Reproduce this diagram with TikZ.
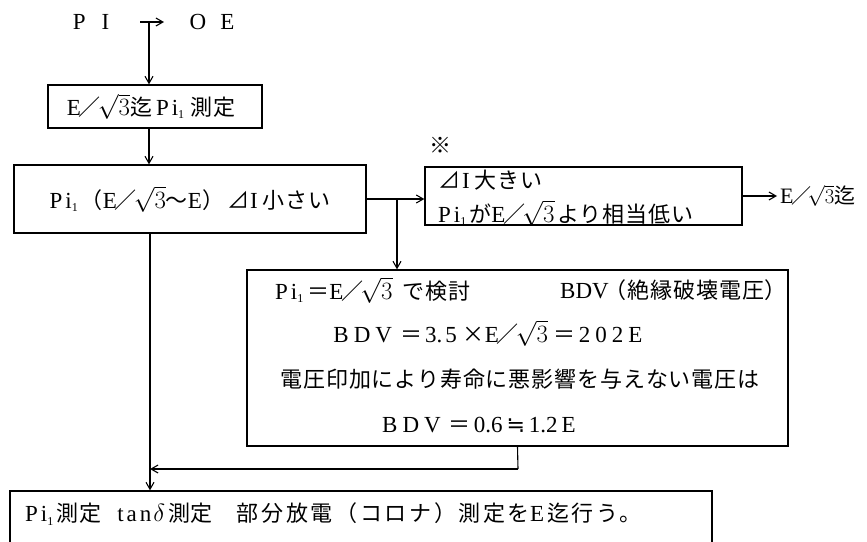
\documentclass[tikz,border=0pt]{standalone}
\usepackage{fontspec}
\setmainfont{Liberation Serif}
\newfontfamily\jp[LetterSpace=4]{Noto Sans CJK JP}
\newfontfamily\jpw[LetterSpace=12]{Noto Sans CJK JP}
\newfontfamily\dv{DejaVu Sans}
\usetikzlibrary{arrows.meta}
\newcommand\J[1]{{\fontsize{22}{26}\selectfont\jp #1}}
\newcommand\JW[1]{{\fontsize{22}{26}\selectfont\jpw #1}}
\newcommand\Sq{$\sqrt{3}$}
\newcommand\sla{\hspace{-2pt}\J{／}\hspace{-3pt}}
\newcommand\one{\raisebox{-0.3ex}{\fontsize{12}{12}\selectfont 1}}
\newcommand\nearlyeq{{\fontsize{22}{24}\selectfont\dv ≒}}
\tikzset{
  box/.style={draw, line width=1.3pt, inner sep=0pt},
  arr/.style={-{Straight Barb[length=7pt,width=8pt]}, line width=1.1pt},
  ln/.style={line width=1.1pt},
  txt/.style={font=\fontsize{23}{26}\selectfont, inner sep=0pt},
}
\begin{document}
\begin{tikzpicture}[x=1pt,y=-1pt]
\clip (0,0) rectangle (867,541);
\fill[white] (0,0) rectangle (867,541);
% top
\node[txt] (pi) at (91,22) {P\hspace{16pt}I};
\node[txt] (oe) at (212,22) {O\hspace{14pt}E};
\coordinate (ha) at (140,22);
\coordinate (hb) at (164,22);
\coordinate (vt) at (149,22);
\draw[arr] (ha) -- (hb);
% box 1
\node[box, txt, minimum width=214pt, minimum height=43pt] (b1) at (155,106.5)
  {\hspace{-8pt}E\sla\Sq\J{迄}\hspace{4pt}P\hspace{3pt}i\one\hspace{6pt}\J{測定}};
\draw[arr] (vt) -- (vt |- b1.north);
% box 2
\node[box, txt, minimum width=352pt, minimum height=68pt] (b2) at (190,199)
  {P\hspace{3pt}i\one\hspace{3pt}\J{（}E\sla\Sq\J{～}E\J{）}\hspace{4pt}\J{⊿}I\hspace{5pt}\J{小さい}};
\draw[arr] (vt |- b1.south) -- (vt |- b2.north);
% box 3
\node[box, minimum width=317pt, minimum height=58pt] (b3) at (583.5,196) {};
\node[txt, anchor=west] (t3a) at (438,180) {\J{⊿}\hspace{2pt}I\hspace{5pt}\J{大きい}};
\node[txt, anchor=west] (t3b) at (438,213) {P\hspace{3pt}i\one\hspace{3pt}\J{が}E\sla\Sq\hspace{3pt}\J{より相当低い}};
\node[txt] (mark) at (440,145) {\J{※}};
\draw[arr] (b2.east) -- (b2.east -| b3.west);
\coordinate (ob) at (777,196);
\draw[arr] (b3.east) -- (ob);
\node[txt, anchor=west, font=\fontsize{22}{24}\selectfont] (out) at (780,196) {E\hspace{-2pt}{\fontsize{20}{24}\selectfont\jp ／}\hspace{-4pt}\Sq{\fontsize{21}{24}\selectfont\jp 迄}};
% box 4
\node[box, minimum width=541pt, minimum height=176pt] (b4) at (517.5,358) {};
\coordinate (br) at (397,199);
\draw[arr] (br) -- (br |- b4.north);
\node[txt, anchor=west] (l1a) at (275,290) {P\hspace{3pt}i\one\hspace{4pt}\J{＝}E\sla\Sq\hspace{10pt}\J{で検討}};
\node[txt, anchor=west] (l1b) at (560,290) {BDV\hspace{-4pt}\J{（絶縁破壊電圧）}};
\node[txt] (l2) at (488,333) {B\hspace{5pt}D\hspace{5pt}V\hspace{8pt}\J{＝}\hspace{3pt}3.\hspace{3pt}5\hspace{6pt}\J{×}E\sla\Sq\hspace{6pt}\J{＝}\hspace{3pt}2\hspace{5pt}0\hspace{5pt}2\hspace{5pt}E};
\node[txt] (l3) at (520,379) {\J{電圧印加により寿命に悪影響を与えない電圧は}};
\node[txt] (l4) at (479,425) {B\hspace{5pt}D\hspace{5pt}V\hspace{8pt}\J{＝}\hspace{3pt}0.6\hspace{4pt}\nearlyeq\hspace{4pt}1.2\hspace{4pt}E};
% bottom box
\node[box, minimum width=702pt, minimum height=80pt] (b5) at (361,531) {};
\node[txt, anchor=west] (t5) at (25,514) {P\hspace{3pt}i\one\hspace{3pt}\J{測定}\hspace{16pt}t\hspace{3pt}a\hspace{3pt}n\hspace{2pt}$\delta$\hspace{3pt}\J{測定}\hspace{24pt}\JW{部分放電（コロナ）測定を}E\hspace{3pt}\JW{迄行う。}};
% connectors to bottom
\coordinate (l0) at (150,233);
\coordinate (j) at (518,469);
\draw[arr] (l0) -- (l0 |- b5.north);
\draw[ln] (b4.south) -- (j);
\draw[arr] (j) -- (j -| l0);
\end{tikzpicture}
\end{document}
